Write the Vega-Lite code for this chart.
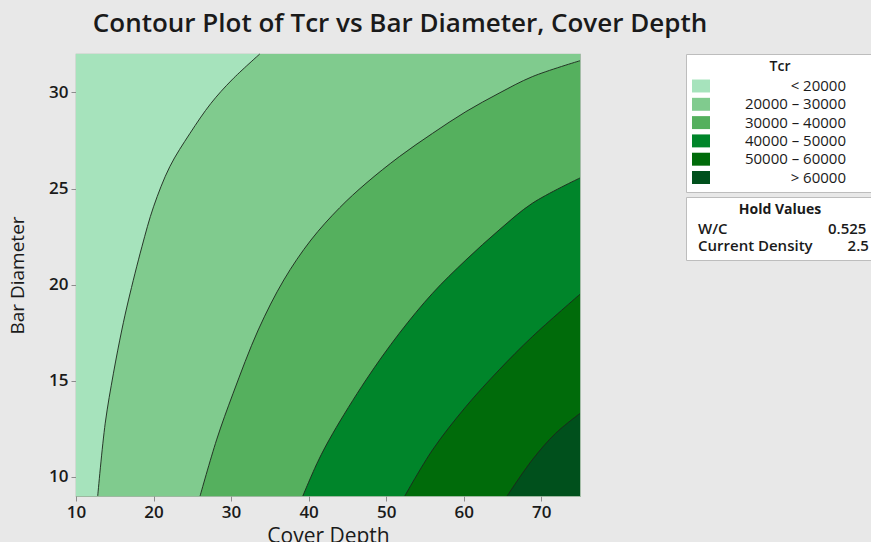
{
  "$schema": "https://vega.github.io/schema/vega-lite/v6.json",
  "width": 504,
  "height": 442,
  "autosize": {"type": "none"},
  "padding": {"left": 76, "top": 54, "right": 291, "bottom": 46},
  "background": "#E8E8E8",
  "title": {
    "text": "Contour Plot of Tcr vs Bar Diameter, Cover Depth",
    "fontSize": 26,
    "fontWeight": 600,
    "color": "#1a1a1a",
    "anchor": "middle",
    "dx": 72,
    "offset": 15
  },
  "datasets": {
    "contours": [
      {"Tcr": "< 20000", "cover": 10, "bar": 9},
      {"Tcr": "< 20000", "cover": 10, "bar": 32},
      {"Tcr": "20000 – 30000", "cover": 12.8, "bar": 9},
      {"Tcr": "20000 – 30000", "cover": 13.77, "bar": 12.79},
      {"Tcr": "20000 – 30000", "cover": 14.83, "bar": 15.39},
      {"Tcr": "20000 – 30000", "cover": 15.91, "bar": 17.64},
      {"Tcr": "20000 – 30000", "cover": 16.77, "bar": 19.2},
      {"Tcr": "20000 – 30000", "cover": 18.5, "bar": 21.97},
      {"Tcr": "20000 – 30000", "cover": 20.0, "bar": 24.05},
      {"Tcr": "20000 – 30000", "cover": 22.1, "bar": 26.14},
      {"Tcr": "20000 – 30000", "cover": 24.7, "bar": 27.87},
      {"Tcr": "20000 – 30000", "cover": 27.4, "bar": 29.43},
      {"Tcr": "20000 – 30000", "cover": 30.1, "bar": 30.65},
      {"Tcr": "20000 – 30000", "cover": 33.7, "bar": 32},
      {"Tcr": "30000 – 40000", "cover": 26.0, "bar": 9},
      {"Tcr": "30000 – 40000", "cover": 28.13, "bar": 11.92},
      {"Tcr": "30000 – 40000", "cover": 30.27, "bar": 14.35},
      {"Tcr": "30000 – 40000", "cover": 33.5, "bar": 17.64},
      {"Tcr": "30000 – 40000", "cover": 36.8, "bar": 20.24},
      {"Tcr": "30000 – 40000", "cover": 40.3, "bar": 22.32},
      {"Tcr": "30000 – 40000", "cover": 44.0, "bar": 24.0},
      {"Tcr": "30000 – 40000", "cover": 47.4, "bar": 25.27},
      {"Tcr": "30000 – 40000", "cover": 51.7, "bar": 26.66},
      {"Tcr": "30000 – 40000", "cover": 55.98, "bar": 27.87},
      {"Tcr": "30000 – 40000", "cover": 60.28, "bar": 29.0},
      {"Tcr": "30000 – 40000", "cover": 64.56, "bar": 29.96},
      {"Tcr": "30000 – 40000", "cover": 68.84, "bar": 30.82},
      {"Tcr": "30000 – 40000", "cover": 75, "bar": 31.65},
      {"Tcr": "40000 – 50000", "cover": 39.25, "bar": 9},
      {"Tcr": "40000 – 50000", "cover": 41.2, "bar": 10.8},
      {"Tcr": "40000 – 50000", "cover": 43.12, "bar": 12.26},
      {"Tcr": "40000 – 50000", "cover": 47.4, "bar": 15.04},
      {"Tcr": "40000 – 50000", "cover": 51.7, "bar": 17.47},
      {"Tcr": "40000 – 50000", "cover": 55.98, "bar": 19.55},
      {"Tcr": "40000 – 50000", "cover": 60.28, "bar": 21.28},
      {"Tcr": "40000 – 50000", "cover": 64.56, "bar": 22.84},
      {"Tcr": "40000 – 50000", "cover": 68.84, "bar": 24.23},
      {"Tcr": "40000 – 50000", "cover": 75, "bar": 25.55},
      {"Tcr": "50000 – 60000", "cover": 52.4, "bar": 9},
      {"Tcr": "50000 – 60000", "cover": 55.98, "bar": 11.4},
      {"Tcr": "50000 – 60000", "cover": 60.28, "bar": 13.65},
      {"Tcr": "50000 – 60000", "cover": 64.56, "bar": 15.56},
      {"Tcr": "50000 – 60000", "cover": 68.84, "bar": 17.29},
      {"Tcr": "50000 – 60000", "cover": 75, "bar": 19.5},
      {"Tcr": "> 60000", "cover": 65.6, "bar": 9},
      {"Tcr": "> 60000", "cover": 68.84, "bar": 10.88},
      {"Tcr": "> 60000", "cover": 71.85, "bar": 12.26},
      {"Tcr": "> 60000", "cover": 75, "bar": 13.3}
    ],
    "hold": [
      {"hold": "W/C"},
      {"hold": "0.525"},
      {"hold": "Current Density"},
      {"hold": "2.5"}
    ]
  },
  "data": {"name": "contours"},
  "encoding": {
    "x": {
      "field": "cover",
      "type": "quantitative",
      "stack": null,
      "scale": {"domain": [10, 75], "nice": false, "zero": false},
      "axis": {
        "title": "Cover Depth",
        "values": [10, 20, 30, 40, 50, 60, 70],
        "labelFlush": false,
        "titleFontSize": 21,
        "titlePadding": 5
      }
    },
    "y": {
      "field": "bar",
      "type": "quantitative",
      "scale": {"domain": [9, 32], "nice": false, "zero": false},
      "axis": {
        "title": "Bar Diameter",
        "values": [10, 15, 20, 25, 30],
        "labelFlush": false,
        "titlePadding": 21
      }
    }
  },
  "layer": [
    {
      "transform": [{"filter": {"field": "Tcr", "equal": "< 20000"}}],
      "mark": {"type": "area", "orient": "horizontal"},
      "encoding": {
        "x2": {"datum": 75},
        "color": {
          "field": "Tcr", "type": "nominal",
          "scale": {"domain": ["< 20000", "20000 – 30000", "30000 – 40000", "40000 – 50000", "50000 – 60000", "> 60000"], "range": ["#A6E3BC", "#80CB8E", "#55B05E", "#00852A", "#006B0A", "#00501C"]},
          "legend": {"orient": "none", "legendX": 610, "legendY": 0, "title": "Tcr", "labelExpr": "datum.label + '\u2800\u2800'"}
        }
      }
    },
    {
      "transform": [{"filter": {"field": "Tcr", "equal": "20000 – 30000"}}],
      "mark": {"type": "area", "orient": "horizontal", "interpolate": "catmull-rom"},
      "encoding": {
        "x2": {"datum": 75},
        "color": {
          "field": "Tcr", "type": "nominal",
          "scale": {"domain": ["< 20000", "20000 – 30000", "30000 – 40000", "40000 – 50000", "50000 – 60000", "> 60000"], "range": ["#A6E3BC", "#80CB8E", "#55B05E", "#00852A", "#006B0A", "#00501C"]},
          "legend": {"orient": "none", "legendX": 610, "legendY": 0, "title": "Tcr", "labelExpr": "datum.label + '\u2800\u2800'"}
        }
      }
    },
    {
      "transform": [{"filter": {"field": "Tcr", "equal": "30000 – 40000"}}],
      "mark": {"type": "area", "orient": "horizontal", "interpolate": "catmull-rom"},
      "encoding": {
        "x2": {"datum": 75},
        "color": {
          "field": "Tcr", "type": "nominal",
          "scale": {"domain": ["< 20000", "20000 – 30000", "30000 – 40000", "40000 – 50000", "50000 – 60000", "> 60000"], "range": ["#A6E3BC", "#80CB8E", "#55B05E", "#00852A", "#006B0A", "#00501C"]},
          "legend": {"orient": "none", "legendX": 610, "legendY": 0, "title": "Tcr", "labelExpr": "datum.label + '\u2800\u2800'"}
        }
      }
    },
    {
      "transform": [{"filter": {"field": "Tcr", "equal": "40000 – 50000"}}],
      "mark": {"type": "area", "orient": "horizontal", "interpolate": "catmull-rom"},
      "encoding": {
        "x2": {"datum": 75},
        "color": {
          "field": "Tcr", "type": "nominal",
          "scale": {"domain": ["< 20000", "20000 – 30000", "30000 – 40000", "40000 – 50000", "50000 – 60000", "> 60000"], "range": ["#A6E3BC", "#80CB8E", "#55B05E", "#00852A", "#006B0A", "#00501C"]},
          "legend": {"orient": "none", "legendX": 610, "legendY": 0, "title": "Tcr", "labelExpr": "datum.label + '\u2800\u2800'"}
        }
      }
    },
    {
      "transform": [{"filter": {"field": "Tcr", "equal": "50000 – 60000"}}],
      "mark": {"type": "area", "orient": "horizontal", "interpolate": "catmull-rom"},
      "encoding": {
        "x2": {"datum": 75},
        "color": {
          "field": "Tcr", "type": "nominal",
          "scale": {"domain": ["< 20000", "20000 – 30000", "30000 – 40000", "40000 – 50000", "50000 – 60000", "> 60000"], "range": ["#A6E3BC", "#80CB8E", "#55B05E", "#00852A", "#006B0A", "#00501C"]},
          "legend": {"orient": "none", "legendX": 610, "legendY": 0, "title": "Tcr", "labelExpr": "datum.label + '\u2800\u2800'"}
        }
      }
    },
    {
      "transform": [{"filter": {"field": "Tcr", "equal": "> 60000"}}],
      "mark": {"type": "area", "orient": "horizontal", "interpolate": "catmull-rom"},
      "encoding": {
        "x2": {"datum": 75},
        "color": {
          "field": "Tcr", "type": "nominal",
          "scale": {"domain": ["< 20000", "20000 – 30000", "30000 – 40000", "40000 – 50000", "50000 – 60000", "> 60000"], "range": ["#A6E3BC", "#80CB8E", "#55B05E", "#00852A", "#006B0A", "#00501C"]},
          "legend": {"orient": "none", "legendX": 610, "legendY": 0, "title": "Tcr", "labelExpr": "datum.label + '\u2800\u2800'"}
        }
      }
    },
    {
      "transform": [{"filter": {"not": {"field": "Tcr", "equal": "< 20000"}}}],
      "mark": {"type": "line", "stroke": "#1c261c", "strokeWidth": 0.9, "interpolate": "catmull-rom"},
      "encoding": {
        "detail": {"field": "Tcr", "type": "nominal"},
        "order": {"field": "bar", "type": "quantitative"}
      }
    },
    {
      "data": {"name": "hold"},
      "mark": {"type": "point", "opacity": 0},
      "encoding": {
        "x": null,
        "y": null,
        "shape": {
          "field": "hold", "type": "nominal",
          "scale": {"domain": ["W/C", "Current Density", "0.525", "2.5"]},
          "legend": {
            "orient": "none", "legendX": 610, "legendY": 143,
            "title": "Hold Values",
            "titleFontWeight": "bold",
            "titlePadding": 4,
            "columns": 2,
            "columnPadding": 9,
            "rowPadding": 1,
            "symbolType": "circle",
            "symbolSize": 0.01,
            "symbolOpacity": 0,
            "symbolStrokeWidth": 0,
            "labelAlign": "left",
            "labelOffset": -9,
            "labelFontSize": 15,
            "labelFontWeight": 600,
            "labelExpr": "datum.label == '2.5' ? '\u2800\u20072.5' : datum.label"
          }
        }
      }
    }
  ],
  "config": {
    "font": "Open Sans",
    "view": {"stroke": "#9DB8A0", "strokeWidth": 1.2},
    "axis": {
      "grid": false,
      "domain": false,
      "tickColor": "#8c8c8c",
      "tickSize": 5,
      "labelFontSize": 17,
      "labelFontWeight": 600,
      "labelColor": "#1a1a1a",
      "labelPadding": 3,
      "titleFontSize": 19,
      "titleFontWeight": 500,
      "titleColor": "#1a1a1a"
    },
    "legend": {
      "fillColor": "#FFFFFF",
      "strokeColor": "#BDBDBD",
      "padding": 6,
      "titleAnchor": "middle",
      "titleFontSize": 14,
      "titleFontWeight": 600,
      "titleColor": "#1a1a1a",
      "titlePadding": 3,
      "labelFontSize": 15,
      "labelColor": "#1a1a1a",
      "labelLimit": 300,
      "symbolType": "M-1,-0.72H1V0.72H-1Z",
      "symbolSize": 324,
      "symbolStrokeWidth": 0,
      "labelAlign": "right",
      "labelOffset": 158,
      "rowPadding": 1.3
    }
  }
}
